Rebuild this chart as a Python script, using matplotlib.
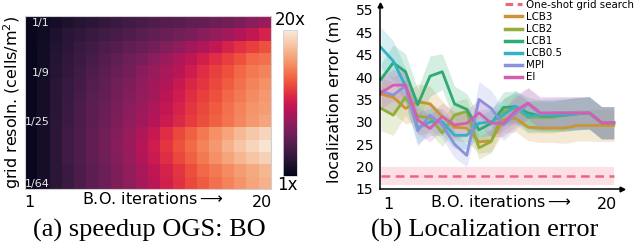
import numpy as np
import matplotlib
matplotlib.use("Agg")
import matplotlib.pyplot as plt
import seaborn as sns
from matplotlib.lines import Line2D

# ---------------- data ----------------
# (a) speedup heatmap, as fraction of colour scale (0 -> 1x, 1 -> 20x)
grid_labels = ["1/1", "1/9", "1/25", "1/64"]
grid_label_rows = [0, 4, 8, 13]
speedup_frac = [
    [0.02,0.04,0.06,0.08,0.10,0.12,0.14,0.16,0.17,0.19,0.21,0.22,0.23,0.25,0.26,0.28,0.30,0.32,0.35,0.39],
    [0.02,0.04,0.08,0.11,0.13,0.15,0.17,0.19,0.21,0.23,0.25,0.27,0.29,0.31,0.34,0.37,0.40,0.44,0.48,0.53],
    [0.02,0.05,0.09,0.12,0.15,0.17,0.20,0.22,0.25,0.27,0.30,0.33,0.36,0.40,0.44,0.48,0.53,0.57,0.60,0.64],
    [0.02,0.05,0.10,0.13,0.16,0.19,0.22,0.25,0.28,0.31,0.35,0.39,0.43,0.47,0.52,0.56,0.60,0.64,0.68,0.70],
    [0.02,0.05,0.10,0.14,0.17,0.21,0.24,0.27,0.30,0.34,0.38,0.42,0.46,0.51,0.56,0.60,0.64,0.68,0.72,0.74],
    [0.02,0.06,0.11,0.15,0.18,0.22,0.25,0.29,0.32,0.36,0.40,0.44,0.49,0.54,0.58,0.62,0.66,0.70,0.74,0.77],
    [0.02,0.06,0.11,0.15,0.19,0.23,0.26,0.30,0.33,0.37,0.41,0.46,0.51,0.56,0.60,0.64,0.68,0.72,0.76,0.79],
    [0.02,0.06,0.11,0.16,0.20,0.24,0.27,0.31,0.35,0.39,0.43,0.48,0.53,0.58,0.62,0.66,0.70,0.74,0.78,0.80],
    [0.02,0.06,0.12,0.16,0.20,0.24,0.28,0.32,0.36,0.40,0.45,0.50,0.55,0.59,0.63,0.67,0.71,0.75,0.79,0.82],
    [0.02,0.06,0.12,0.17,0.21,0.25,0.29,0.33,0.38,0.43,0.49,0.56,0.62,0.67,0.72,0.77,0.82,0.87,0.91,0.94],
    [0.02,0.06,0.12,0.17,0.21,0.25,0.30,0.34,0.39,0.45,0.51,0.58,0.64,0.69,0.74,0.79,0.85,0.90,0.94,0.98],
    [0.02,0.06,0.12,0.17,0.21,0.25,0.29,0.33,0.38,0.44,0.50,0.56,0.62,0.67,0.72,0.77,0.82,0.86,0.90,0.93],
    [0.02,0.06,0.12,0.16,0.20,0.24,0.28,0.32,0.37,0.42,0.47,0.53,0.58,0.63,0.68,0.72,0.76,0.80,0.83,0.86],
    [0.02,0.06,0.12,0.16,0.20,0.24,0.28,0.32,0.36,0.41,0.46,0.52,0.57,0.62,0.66,0.70,0.74,0.78,0.82,0.85],
]

# (b) localization error per B.O. iteration
iterations = list(range(1, 21))
series_names = ["LCB3", "LCB2", "LCB1", "LCB0.5", "MPI", "EI"]
lcb3_mean = [36.2,35.5,33.0,34.5,34.0,31.2,28.8,28.6,25.5,25.8,30.5,30.8,28.8,28.6,28.6,28.6,29.2,29.2,29.2,29.2]
lcb2_mean = [33.0,31.5,35.5,31.2,31.0,27.5,31.5,32.3,24.2,25.6,32.3,33.0,31.0,31.0,31.0,31.5,31.8,32.0,29.8,29.8]
lcb1_mean = [39.5,43.2,41.2,33.8,40.2,41.2,34.0,32.8,28.2,29.7,33.2,33.4,32.0,31.3,31.3,31.5,31.8,32.0,29.8,29.8]
lcb05_mean = [46.6,43.6,38.0,28.6,30.0,30.0,27.0,27.0,29.7,30.0,31.6,33.5,31.2,31.5,31.5,31.5,31.8,32.0,29.8,29.8]
mpi_mean = [36.8,36.0,38.0,28.0,31.5,29.3,25.0,22.5,35.0,33.0,29.3,31.8,34.0,31.8,32.0,32.0,32.0,32.0,29.8,29.8]
ei_mean = [36.5,38.2,38.2,30.4,28.5,31.2,29.3,29.7,32.0,29.7,29.7,32.5,34.2,32.0,32.0,32.0,32.0,32.0,29.8,29.8]

lcb3_std = [3.5,3.5,3.5,4.0,4.0,3.5,3.0,3.0,2.5,2.5,3.0,3.0,3.0,3.2,3.2,3.4,3.5,3.5,3.6,3.6]
lcb2_std = [5.0,4.5,4.0,4.0,3.5,3.0,3.0,3.0,2.5,2.5,3.0,3.5,3.5,3.5,3.5,3.5,3.6,3.6,3.6,3.6]
lcb1_std = [3.5,4.0,4.0,3.5,4.5,4.0,4.0,3.5,3.0,3.0,3.5,3.5,3.5,3.5,3.5,3.6,3.6,3.6,3.6,3.6]
lcb05_std = [4.5,4.5,4.0,3.5,3.0,3.0,3.0,3.0,3.0,3.0,3.5,3.5,3.5,3.5,3.5,3.6,3.6,3.6,3.6,3.6]
mpi_std = [4.0,4.0,4.0,3.5,3.0,3.0,3.0,2.5,4.0,4.0,3.5,3.5,3.5,3.5,3.5,3.6,3.6,3.6,3.6,3.6]
ei_std = [3.5,3.5,3.5,3.0,3.0,3.0,3.0,3.0,3.0,3.0,3.0,3.5,3.5,3.6,3.6,3.6,3.6,3.6,3.6,3.6]

oneshot_mean = 18.0
oneshot_std = 2.0

ytick_values = [15, 20, 25, 30, 35, 40, 45, 50, 55]
ytick_labels = ["15", "20", "25", "30", "35", "40", "45", "45", "55"]

colors = {
    "One-shot grid search": "#f0647e",
    "LCB3": "#cc9330",
    "LCB2": "#93ad3a",
    "LCB1": "#2eaa72",
    "LCB0.5": "#33b2c6",
    "MPI": "#8a92dc",
    "EI": "#d45fae",
}

# ---------------- figure ----------------
W, H = 640, 246
fig = plt.figure(figsize=(W / 100, H / 100), dpi=100)

def fr(x0, y0, x1, y1):
    return [x0 / W, 1 - y1 / H, (x1 - x0) / W, (y1 - y0) / H]

# ---- (a) heatmap ----
ax1 = fig.add_axes(fr(25, 16, 271, 189))
cmap = sns.color_palette("rocket", as_cmap=True)
im = ax1.imshow(np.array(speedup_frac), cmap=cmap, vmin=0, vmax=1,
                aspect="auto", interpolation="nearest")
ax1.set_yticks(grid_label_rows)
ax1.set_yticklabels(grid_labels)
ax1.tick_params(axis="y", length=0, pad=-18, labelcolor="#e8e8e8", labelsize=8)
ax1.set_xticks([-0.17, 18.77])
ax1.set_xticklabels(["1", "20"])
ax1.tick_params(axis="x", length=0, pad=4, labelsize=11.5)
ax1.set_xlabel(r"B.O. iterations$\longrightarrow$", fontsize=11.5)
ax1.xaxis.set_label_coords(0.52, -0.06)
ax1.xaxis.label.set_va("center")
for s in ax1.spines.values():
    s.set_color("#d0d0d0")
    s.set_linewidth(0.8)
fig.text(12 / W, 1 - 102 / H, r"grid resoln. (cells/m$^2$)", rotation=90,
         ha="center", va="center", fontsize=11.5)

cax = fig.add_axes(fr(283, 30, 297, 176))
cb = fig.colorbar(im, cax=cax)
cb.set_ticks([])
cb.outline.set_edgecolor("#d0d0d0")
cb.outline.set_linewidth(0.6)
fig.text(290 / W, 1 - 20 / H, "20x", ha="center", va="center", fontsize=12)
fig.text(287 / W, 1 - 185 / H, "1x", ha="center", va="center", fontsize=12)

fig.text(149 / W, 1 - 230 / H, "(a) speedup OGS: BO", ha="center", va="center",
         fontsize=19, family="Liberation Serif")

# ---- (b) localization error ----
ax2 = fig.add_axes(fr(380, 5, 622, 189))
x = np.array(iterations)

ax2.fill_between(x, oneshot_mean - oneshot_std, oneshot_mean + oneshot_std,
                 color=colors["One-shot grid search"], alpha=0.2, lw=0)
ax2.plot(x, np.full(len(x), oneshot_mean), ls=(0, (3.5, 2.2)), lw=1.8,
         color=colors["One-shot grid search"])

means = [lcb3_mean, lcb2_mean, lcb1_mean, lcb05_mean, mpi_mean, ei_mean]
stds = [lcb3_std, lcb2_std, lcb1_std, lcb05_std, mpi_std, ei_std]
for name, m, s in zip(series_names, means, stds):
    m = np.array(m); s = np.array(s)
    ax2.fill_between(x, m - s, m + s, color=colors[name], alpha=0.2, lw=0)
for name, m in zip(series_names, means):
    ax2.plot(x, m, color=colors[name], lw=2.0)

ax2.set_xlim(0.92, 20.67)
ax2.set_ylim(15, 56.1)
ax2.set_yticks(ytick_values)
ax2.set_yticklabels(ytick_labels)
ax2.set_xticks([1.57, 19.45])
ax2.set_xticklabels(["1", "20"])
ax2.tick_params(axis="y", length=0, pad=5, labelsize=10)
ax2.tick_params(axis="x", length=0, pad=6, labelsize=11.5)
ax2.set_xlabel(r"B.O. iterations$\longrightarrow$", fontsize=11.5)
ax2.xaxis.set_label_coords(0.5, -0.072)
ax2.xaxis.label.set_va("center")
ax2.set_ylabel("localization error (m)", fontsize=11.5)
ax2.yaxis.set_label_coords(-0.19, 0.49)
ax2.yaxis.label.set_va("center")
for side in ("top", "right"):
    ax2.spines[side].set_visible(False)
for side in ("left", "bottom"):
    ax2.spines[side].set_linewidth(1.1)
ax2.plot(1, 0, ">k", transform=ax2.transAxes, clip_on=False, ms=3.5)
ax2.plot(0, 1, "^k", transform=ax2.transAxes, clip_on=False, ms=3.5)

handles = [Line2D([], [], color=colors["One-shot grid search"], lw=2.2, ls=(0, (2.5, 1.5)))]
handles += [Line2D([], [], color=colors[n], lw=2.5) for n in series_names]
labels = ["One-shot grid search"] + series_names
fig.legend(handles, labels, loc="upper left", bbox_to_anchor=(505 / W, 1.0),
           frameon=False, fontsize=7.4, handlelength=1.7, handletextpad=0.35,
           labelspacing=0.2, borderpad=0.0, borderaxespad=0.0)

fig.text(485 / W, 1 - 230 / H, "(b) Localization error", ha="center", va="center",
         fontsize=19, family="Liberation Serif")

fig.savefig("out.png", dpi=100)
